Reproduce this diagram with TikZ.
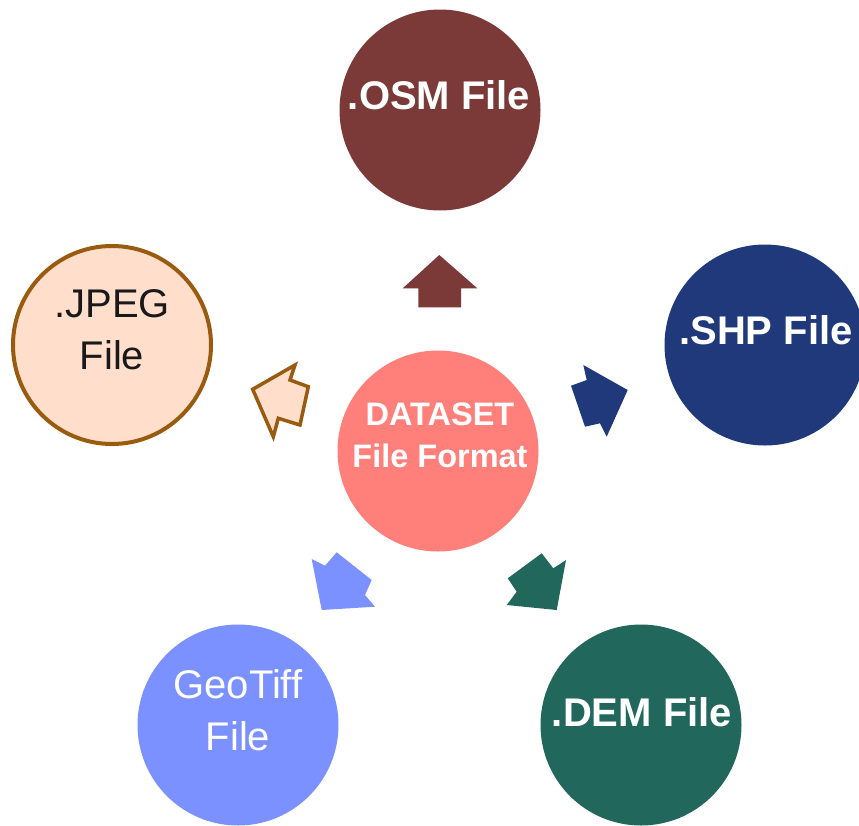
\documentclass[tikz,border=0pt]{standalone}
\usepackage{fontspec}
\setmainfont{Liberation Sans}
\usetikzlibrary{positioning}

\definecolor{osmred}{RGB}{123,58,55}
\definecolor{shpblue}{RGB}{31,57,123}
\definecolor{jpegfill}{RGB}{255,222,203}
\definecolor{jpegline}{RGB}{153,91,15}
\definecolor{tiffblue}{RGB}{123,145,255}
\definecolor{demgreen}{RGB}{34,103,91}
\definecolor{hubpink}{RGB}{255,127,122}

\tikzset{
bubble/.style={
  circle,
  minimum size=201pt,
  inner sep=0pt,
  draw=none
  },
bigtxt/.style={
  font=\fontsize{40}{52}\selectfont,
  align=center
  },
hubtxt/.style={
  font=\bfseries\fontsize{32.5}{42}\selectfont,
  align=center,
  text=white
  },
blk/.style={
  line join=miter
  }
}

\begin{document}
\begin{tikzpicture}[x=1pt,y=-1pt]
\clip (0,0) rectangle (859,825);

% the five file circles round the hub
\node[bubble,fill=hubpink] (hub) at (438,451) {};
\node[bubble,fill=osmred] (osm) at (440,110) {};
\node[bubble,fill=shpblue] (shp) at (765,345) {};
\node[bubble,fill=jpegfill,draw=jpegline,line width=4pt,minimum size=198pt] (jpeg) at (112,345) {};
\node[bubble,fill=tiffblue] (tiff) at (238,725) {};
\node[bubble,fill=demgreen] (dem) at (641,725) {};

% labels sit a little above the centres
\node[hubtxt] (hubl) at (440,435) {DATASET\\File Format};
\node[bigtxt,font=\bfseries\fontsize{40}{52}\selectfont,text=white] (osml) at (439,95) {.OSM File};
\node[bigtxt,font=\bfseries\fontsize{40}{52}\selectfont,text=white] (shpl) at (766,330) {.SHP File};
\node[bigtxt,text=black!90] (jpegl) at (112,330) {.JPEG\\File};
\node[bigtxt,text=white] (tiffl) at (238,710) {GeoTiff\\File};
\node[bigtxt,font=\bfseries\fontsize{40}{52}\selectfont,text=white] (deml) at (642,712) {.DEM File};

% block arrows
\fill[blk,osmred] (439.3,255) -- (477.3,288.3) -- (461,288.3) -- (461,307.3)
  -- (418.3,307.3) -- (418.3,288.3) -- (402.7,288.3) -- cycle;

\fill[blk,shpblue] (627.7,390) -- (606.7,436.7) -- (600,423.3) -- (585,426.7)
  -- (571,385.7) -- (586.7,380) -- (583.3,365) -- cycle;

\filldraw[blk,fill=jpegfill,draw=jpegline,line width=3.5pt]
  (252.7,389.3) -- (295,365) -- (290,380) -- (308.3,386.7)
  -- (300,425) -- (278.3,418.3) -- (273.3,436.7) -- cycle;

\fill[blk,tiffblue] (321.7,610) -- (311.7,559) -- (325,565.7) -- (336.7,552.3)
  -- (371.7,580) -- (365,595) -- (375,606.7) -- cycle;

\fill[blk,demgreen] (556.7,610) -- (566,560) -- (553.3,568.3) -- (541.7,553.3)
  -- (507.7,578.3) -- (516.7,591.7) -- (506.7,605) -- cycle;

\end{tikzpicture}
\end{document}
